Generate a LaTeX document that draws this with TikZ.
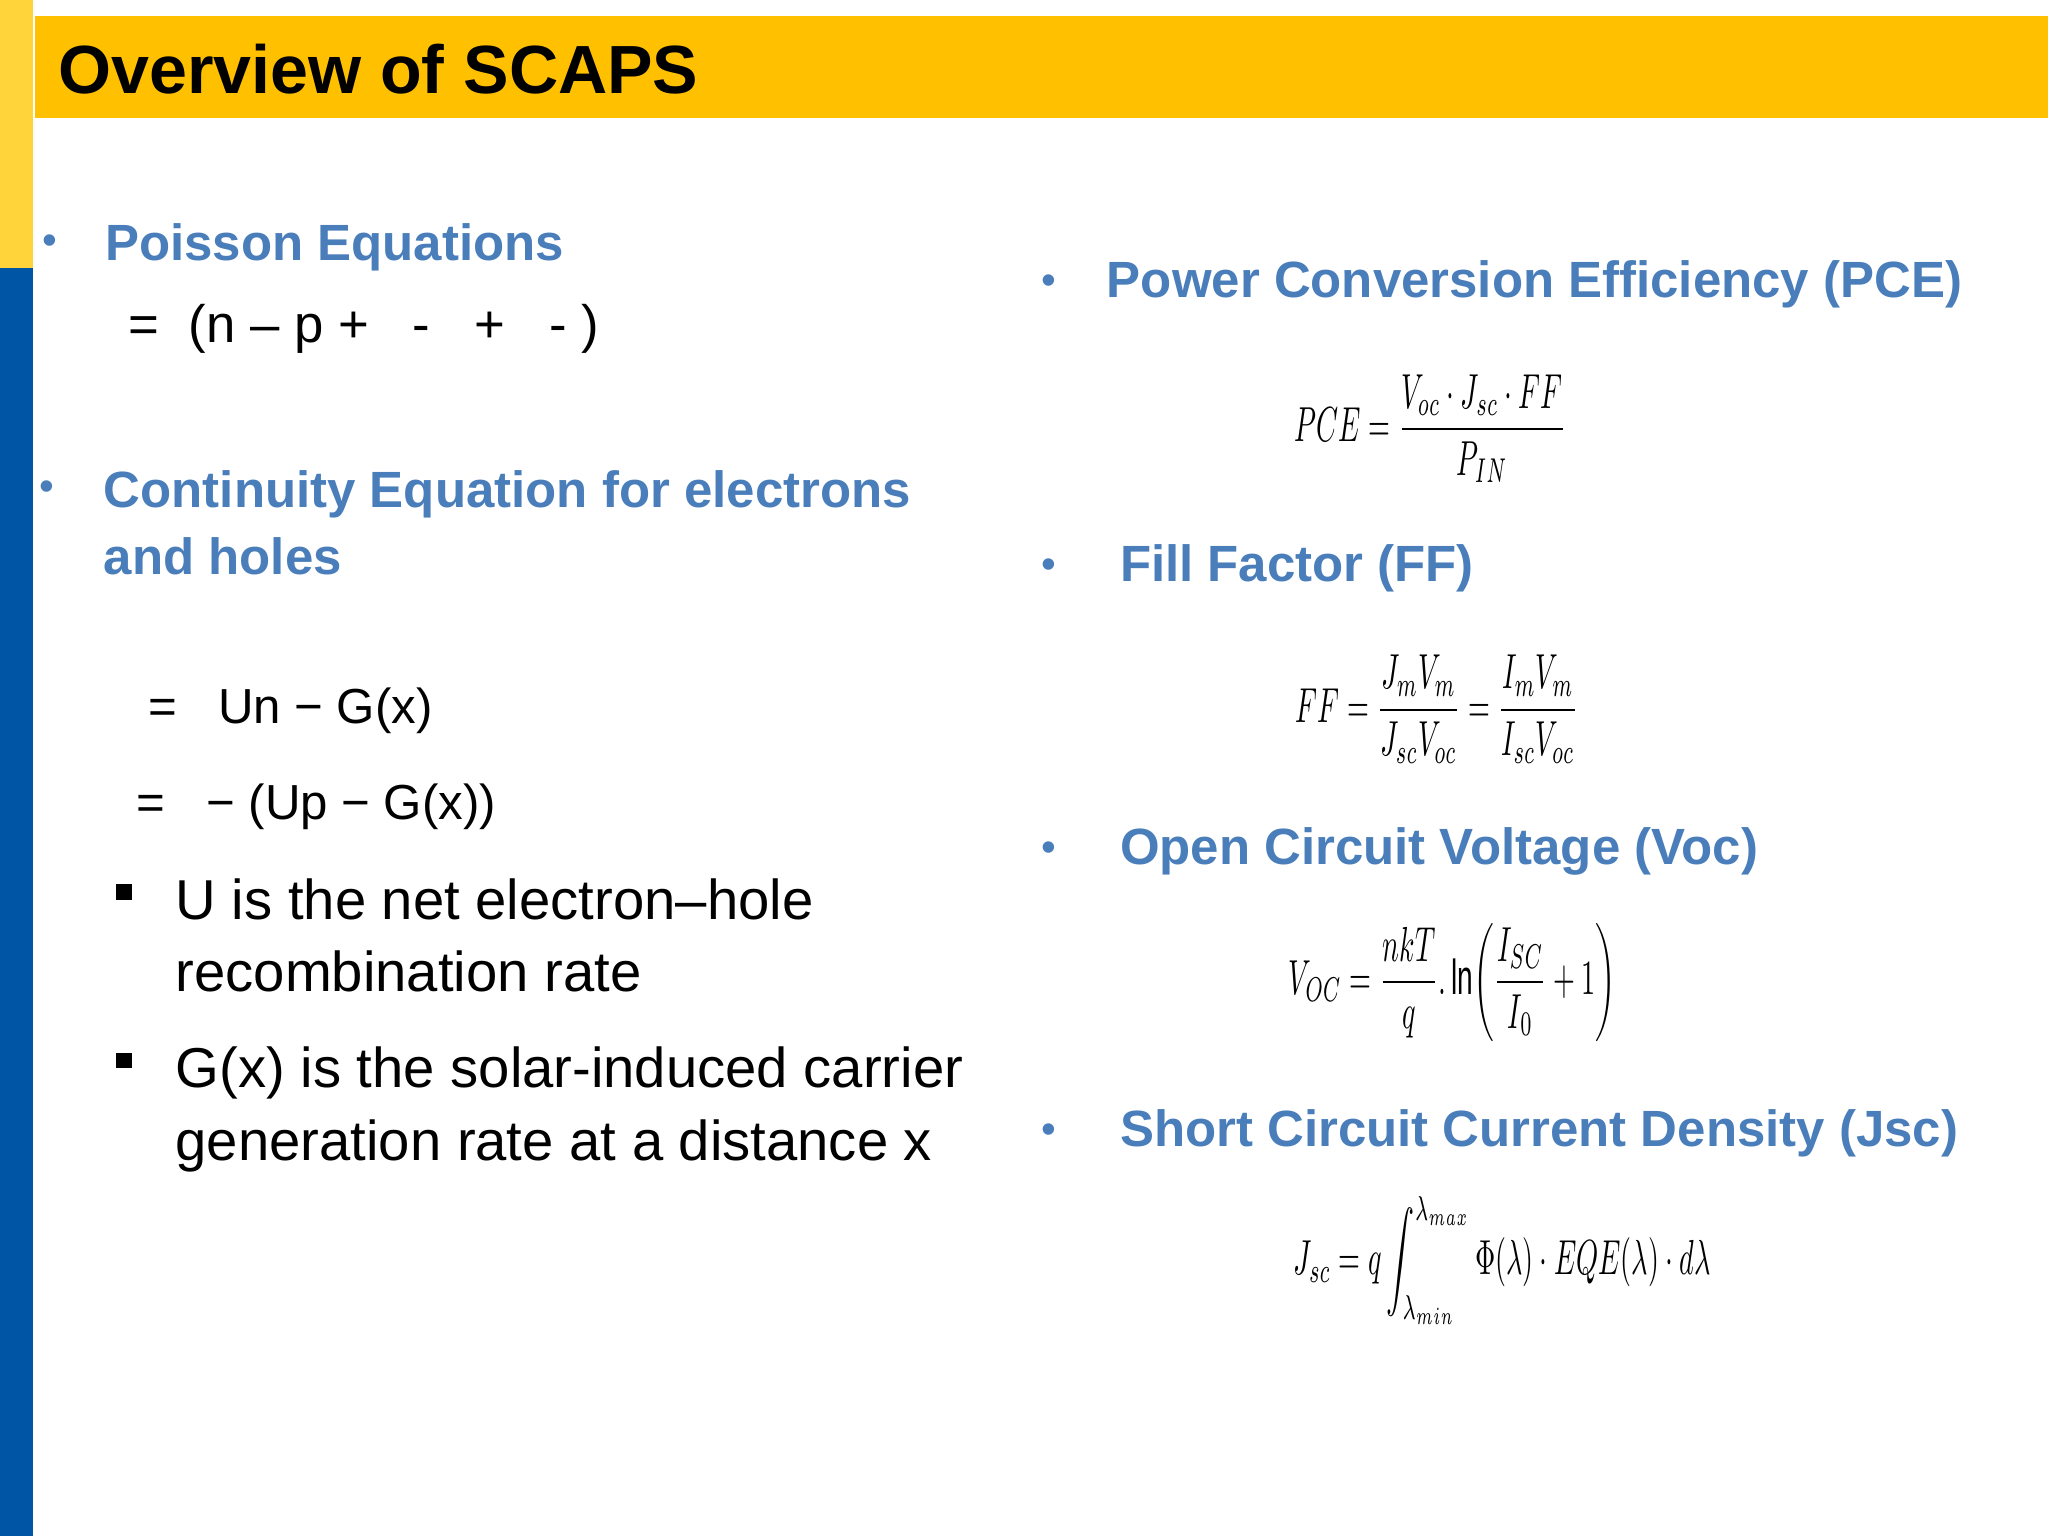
\documentclass[tikz,border=0pt]{standalone}
\usepackage{fontspec}
\setmainfont{Liberation Sans}
\usepackage{amsmath}
\definecolor{ttl}{HTML}{FFC000}
\definecolor{ylw}{HTML}{FFD43A}
\definecolor{blu}{HTML}{0055A5}
\definecolor{hd}{HTML}{4A7EBB}
\begin{document}
\begin{tikzpicture}[x=0.01306cm,y=-0.01306cm,
  hdr/.style={anchor=west,font=\fontsize{14.5}{17}\selectfont\bfseries,text=hd,inner sep=0},
  bul/.style={anchor=center,font=\fontsize{12}{14}\selectfont,text=hd,inner sep=0},
  body/.style={anchor=north west,font=\fontsize{16}{20.7}\selectfont,inner sep=0,align=left},
  eq/.style={anchor=west,font=\fontsize{15}{17}\selectfont,inner sep=0},
  sq/.style={fill=black,minimum size=4.5pt,inner sep=0,anchor=center},
  meq/.style={anchor=center,inner sep=0,xscale=0.8,yscale=1.4}]
\useasboundingbox (0,0) rectangle (1568,1176);
\fill[white] (0,0) rectangle (1568,1176);
\fill[ylw] (0,0) rectangle (25,205);
\fill[blu] (0,205) rectangle (25,1176);
\fill[ttl] (27,12) rectangle (1568,90);
\node[anchor=west,inner sep=0,font=\fontsize{19.4}{24}\selectfont\bfseries] (title) at (44,53) {Overview of SCAPS};
% left
\node[bul] (b1) at (38,187) {•};
\node[hdr] (h1) at (80,189) {Poisson Equations};
\node[eq] (e1) at (98,252) {=\ \ (n -- p +\ \ \ -\ \ \ +\ \ \ -\ )};
\node[bul] (b2) at (36,376) {•};
\node[hdr,align=left,anchor=north west,font=\fontsize{14.5}{19}\selectfont\bfseries] (h2) at (79,360) {Continuity Equation for electrons\\and holes};
\node[eq,font=\fontsize{14}{16}\selectfont] (e2) at (113,544) {=\ \ \ Un − G(x)};
\node[eq,font=\fontsize{14}{16}\selectfont] (e3) at (104,618) {=\ \ \ − (Up − G(x))};
\node[sq] (s1) at (95,683) {};
\node[body] (t1) at (134,672) {U is the net electron–hole\\recombination rate};
\node[sq] (s2) at (95,812) {};
\node[body] (t2) at (134,801) {G(x) is the solar-induced carrier\\generation rate at a distance x};
% right
\node[bul] (b3) at (803,218) {•};
\node[hdr] (h3) at (847,218) {Power Conversion Efficiency (PCE)};
\node[meq] (m3) at (1095,328) {$PCE=\dfrac{V_{oc}\cdot J_{sc}\cdot FF}{P_{IN}}$};
\node[bul] (b4) at (803,435) {•};
\node[hdr] (h4) at (857,435) {Fill Factor (FF)};
\node[meq] (m4) at (1100,543) {$FF=\dfrac{J_mV_m}{J_{sc}V_{oc}}=\dfrac{I_mV_m}{I_{sc}V_{oc}}$};
\node[bul] (b5) at (803,652) {•};
\node[hdr] (h5) at (857,652) {Open Circuit Voltage (Voc)};
\node[meq] (m5) at (1112,752) {$V_{OC}=\dfrac{nkT}{q}.\ln\!\left(\dfrac{I_{SC}}{I_0}+1\right)$};
\node[bul] (b6) at (803,868) {•};
\node[hdr] (h6) at (857,868) {Short Circuit Current Density (Jsc)};
\node[meq] (m6) at (1150,965) {$J_{sc}=q\displaystyle\int_{\lambda_{min}}^{\lambda_{max}}\Phi(\lambda)\cdot EQE(\lambda)\cdot d\lambda$};
\end{tikzpicture}
\end{document}
